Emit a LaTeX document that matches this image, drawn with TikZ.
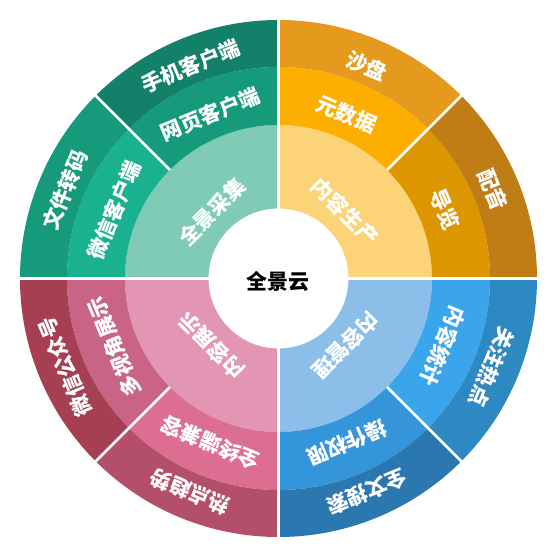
\documentclass[tikz,border=0pt]{standalone}
\usepackage{fontspec}
\newfontfamily\cjk{Noto Sans CJK SC}
\definecolor{gA}{HTML}{13806A}
\definecolor{gB}{HTML}{159A7C}
\definecolor{gC}{HTML}{1AB190}
\definecolor{gI}{HTML}{80CBB5}
\definecolor{oA}{HTML}{E5991D}
\definecolor{oB}{HTML}{FDAF01}
\definecolor{oC}{HTML}{DD9601}
\definecolor{oD}{HTML}{C07D16}
\definecolor{oI}{HTML}{FDD377}
\definecolor{bI}{HTML}{8BBFE9}
\definecolor{bB}{HTML}{3BA5EB}
\definecolor{bC}{HTML}{3595DB}
\definecolor{bA}{HTML}{2E88C1}
\definecolor{bD}{HTML}{2B77B0}
\definecolor{pI}{HTML}{E296B3}
\definecolor{pB}{HTML}{C96486}
\definecolor{pC}{HTML}{DC6E92}
\definecolor{pA}{HTML}{A63F52}
\definecolor{pD}{HTML}{B44F6B}
\tikzset{
  lab/.style={text=white, font=\cjk\bfseries\fontsize{21}{21}\selectfont, inner sep=0pt},
  gapline/.style={white, line width=3pt}
}
\newcommand\sect[5]{\fill[#5] (#1:#3pt) arc[start angle=#1, end angle=#2, radius=#3pt] -- (#2:#4pt) arc[start angle=#2, end angle=#1, radius=#4pt] -- cycle;}
\newcommand\lab[4]{\node[lab, rotate=#1-90] (#3) at (#1:#2pt) {#4};}
\begin{document}
\begin{tikzpicture}
\useasboundingbox (-278.5pt,-278.5pt) rectangle (278.5pt,278.5pt);
% inner ring
\sect{90}{180}{70}{153.5}{gI}
\sect{0}{90}{70}{153.5}{oI}
\sect{-90}{0}{70}{153.5}{bI}
\sect{180}{270}{70}{153.5}{pI}
% middle ring
\sect{90}{135}{153.5}{211.5}{gB}
\sect{135}{180}{153.5}{211.5}{gC}
\sect{45}{90}{153.5}{211.5}{oB}
\sect{0}{45}{153.5}{211.5}{oC}
\sect{-45}{0}{153.5}{211.5}{bB}
\sect{-90}{-45}{153.5}{211.5}{bC}
\sect{180}{225}{153.5}{211.5}{pB}
\sect{225}{270}{153.5}{211.5}{pC}
% outer ring
\sect{90}{135}{211.5}{258.5}{gA}
\sect{135}{180}{211.5}{258.5}{gB}
\sect{45}{90}{211.5}{258.5}{oA}
\sect{0}{45}{211.5}{258.5}{oD}
\sect{-45}{0}{211.5}{258.5}{bA}
\sect{-90}{-45}{211.5}{258.5}{bD}
\sect{180}{225}{211.5}{258.5}{pA}
\sect{225}{270}{211.5}{258.5}{pD}
% gaps
\draw[gapline] (0,-260pt) -- (0,260pt);
\draw[gapline] (-260pt,0) -- (260pt,0);
\foreach \a in {45,135,225,315} \draw[gapline, line width=2.5pt] (\a:153.5pt) -- (\a:259pt);
% labels
\lab{135}{94}{t1}{全景采集}
\lab{112.5}{178}{t2}{网页客户端}
\lab{157.5}{178}{t3}{微信客户端}
\lab{112.5}{230}{t4}{手机客户端}
\lab{157.5}{231}{t5}{文件转码}
\lab{45}{94}{t6}{内容生产}
\lab{67.5}{178}{t7}{元数据}
\lab{22.5}{180}{t8}{导览}
\lab{67.5}{230}{t9}{沙盘}
\lab{22.5}{232}{t10}{配音}
\lab{-45}{95}{t11}{内容管理}
\lab{-22.5}{178}{t12}{内容统计}
\lab{-67.5}{178}{t13}{操作权限}
\lab{-22.5}{231}{t14}{关注热点}
\lab{-67.5}{231}{t15}{全文搜索}
\lab{225}{95}{t16}{内容展示}
\lab{202.5}{178}{t17}{多视角展示}
\lab{247.5}{178}{t18}{全终端兼容}
\lab{202.5}{231}{t19}{微信公众号}
\lab{247.5}{231}{t20}{热点趋势}
\node[font=\cjk\bfseries\fontsize{21}{21}\selectfont, text=black, inner sep=0pt] (c) at (0,-3pt) {全景云};
\end{tikzpicture}
\end{document}
